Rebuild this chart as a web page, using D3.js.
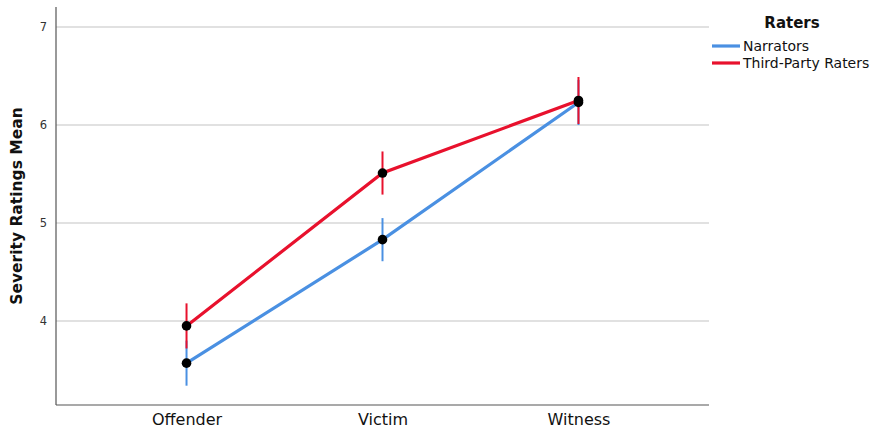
<!DOCTYPE html>
<html>
<head>
<meta charset="utf-8">
<script src="https://cdn.jsdelivr.net/npm/d3@7"></script>
<style>
  body { margin: 0; background: #fff; }
  svg { display: block; font-family: "DejaVu Sans", sans-serif; }
</style>
</head>
<body>
<svg id="chart" width="874" height="432"></svg>
<script>
// Severity ratings by role, one line per rater group, with error bars
const categories = ["Offender", "Victim", "Witness"];
const seriesNames = ["Narrators", "Third-Party Raters"];
const narratorMeans = [3.57, 4.83, 6.23];
const narratorErr = [0.23, 0.22, 0.23];
const thirdPartyMeans = [3.95, 5.51, 6.25];
const thirdPartyErr = [0.23, 0.22, 0.24];
const yTicks = [4, 5, 6, 7];
const colors = ["#4a90e2", "#e8112d"];

const series = [
  { name: seriesNames[0], means: narratorMeans, err: narratorErr, color: colors[0] },
  { name: seriesNames[1], means: thirdPartyMeans, err: thirdPartyErr, color: colors[1] }
];

const svg = d3.select("#chart");
const margin = { left: 56, right: 165, top: 7, bottom: 27 };
const W = 874, H = 432;

const x = d3.scalePoint().domain(categories)
  .range([margin.left, W - margin.right]).padding(0.666);
const y = d3.scaleLinear().domain([3.143, 7.204])
  .range([H - margin.bottom, margin.top]);

// gridlines
svg.append("g").selectAll("line").data(yTicks).join("line")
  .attr("x1", margin.left).attr("x2", W - margin.right)
  .attr("y1", d => y(d)).attr("y2", d => y(d))
  .attr("stroke", "#c4c4c4").attr("stroke-width", 1.2);

// y axis
const yAxis = svg.append("g")
  .attr("transform", `translate(${margin.left},0)`)
  .call(d3.axisLeft(y).tickValues(yTicks).tickFormat(d3.format("d"))
    .tickSize(0).tickPadding(9));
yAxis.select(".domain").remove();
yAxis.selectAll("text").attr("font-size", 11.5).attr("fill", "#333")
  .attr("font-family", "DejaVu Sans, sans-serif");
svg.append("line")
  .attr("x1", margin.left).attr("x2", margin.left)
  .attr("y1", margin.top).attr("y2", H - margin.bottom)
  .attr("stroke", "#555").attr("stroke-width", 1.2);

// x axis
const xAxis = svg.append("g")
  .attr("transform", `translate(0,${H - margin.bottom})`)
  .call(d3.axisBottom(x).tickSize(0).tickPadding(9));
xAxis.select(".domain").remove();
xAxis.selectAll("text").attr("font-size", 16).attr("fill", "#111")
  .attr("font-family", "DejaVu Sans, sans-serif");
svg.append("line")
  .attr("x1", margin.left).attr("x2", W - margin.right)
  .attr("y1", H - margin.bottom).attr("y2", H - margin.bottom)
  .attr("stroke", "#555").attr("stroke-width", 1.2);

// y axis title
svg.append("text")
  .attr("transform", `translate(22,${(y(7.204) + y(3.143)) / 2}) rotate(-90)`)
  .attr("text-anchor", "middle")
  .attr("font-size", 15.5).attr("font-weight", "bold").attr("fill", "#111")
  .text("Severity Ratings Mean");

const line = d3.line().x((d, i) => x(categories[i])).y(d => y(d));

series.forEach(s => {
  const g = svg.append("g");
  g.selectAll("line.err").data(s.means).join("line").attr("class", "err")
    .attr("x1", (d, i) => x(categories[i])).attr("x2", (d, i) => x(categories[i]))
    .attr("y1", (d, i) => y(d - s.err[i])).attr("y2", (d, i) => y(d + s.err[i]))
    .attr("stroke", s.color).attr("stroke-width", 2);
  g.append("path").datum(s.means)
    .attr("d", line).attr("fill", "none")
    .attr("stroke", s.color).attr("stroke-width", 3.2);
});

series.forEach(s => {
  svg.append("g").selectAll("circle").data(s.means).join("circle")
    .attr("cx", (d, i) => x(categories[i])).attr("cy", d => y(d))
    .attr("r", 4.8).attr("fill", "#000");
});

// legend
const lg = svg.append("g");
lg.append("text").attr("x", 792).attr("y", 28).attr("text-anchor", "middle")
  .attr("font-size", 15).attr("font-weight", "bold").attr("fill", "#111")
  .text("Raters");
series.forEach((s, i) => {
  const yy = 46 + i * 17;
  lg.append("line").attr("x1", 712).attr("x2", 740)
    .attr("y1", yy).attr("y2", yy)
    .attr("stroke", s.color).attr("stroke-width", 3.2);
  lg.append("text").attr("x", 743).attr("y", yy + 5)
    .attr("font-size", 14).attr("fill", "#111").text(s.name);
});
</script>
</body>
</html>
